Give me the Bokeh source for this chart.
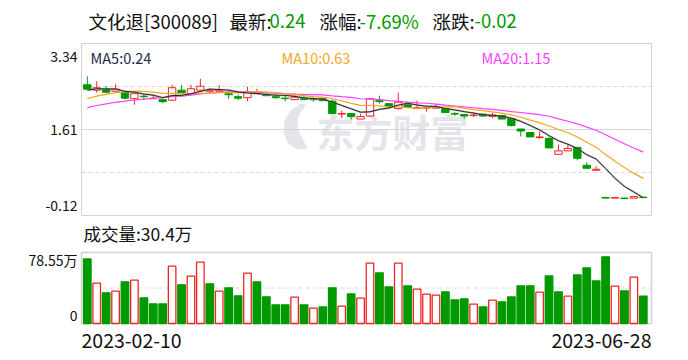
from bokeh.plotting import figure
from bokeh.models import Range1d, ColumnDataSource
from bokeh.core.properties import value
from bokeh.embed import file_html
from bokeh.resources import INLINE
import pandas as pd

# ---------------- data ----------------
stock_name = "文化退[300089]"
latest = "0.24"
pct_change = "-7.69%"
change = "-0.02"
start_date = "2023-02-10"
end_date = "2023-06-28"

opens = [2.51, 2.40, 2.42, 2.38, 2.36, 2.23, 2.28, 2.23, 2.21, 2.20,
         2.40, 2.33, 2.40, 2.38, 2.38, 2.33, 2.27, 2.25, 2.33, 2.31,
         2.27, 2.24, 2.21, 2.23, 2.22, 2.23, 2.18, 1.92, 1.93, 1.82,
         1.88, 2.19, 2.13, 2.03, 2.11, 2.03, 2.04, 2.04, 2.03, 1.93,
         1.91, 1.89, 1.92, 1.87, 1.89, 1.83, 1.62, 1.55, 1.45, 1.43,
         1.11, 1.18, 1.25, 0.89, 0.79, 0.24, 0.23, 0.23, 0.23, 0.25]
closes = [2.42, 2.45, 2.36, 2.42, 2.24, 2.33, 2.27, 2.24, 2.17, 2.45,
          2.35, 2.43, 2.48, 2.40, 2.40, 2.31, 2.24, 2.37, 2.35, 2.29,
          2.25, 2.23, 2.26, 2.21, 2.21, 2.19, 1.93, 1.93, 1.87, 1.87,
          2.23, 2.17, 2.07, 2.16, 2.06, 2.05, 2.05, 2.05, 1.95, 1.92,
          1.88, 1.90, 1.88, 1.90, 1.82, 1.69, 1.58, 1.46, 1.46, 1.24,
          1.18, 1.23, 1.03, 0.83, 0.81, 0.23, 0.24, 0.22, 0.26, 0.24]
highs = [2.68, 2.58, 2.48, 2.52, 2.37, 2.33, 2.33, 2.31, 2.21, 2.51,
         2.50, 2.51, 2.63, 2.43, 2.50, 2.38, 2.31, 2.47, 2.43, 2.37,
         2.33, 2.29, 2.33, 2.28, 2.25, 2.24, 2.21, 1.99, 1.93, 1.93,
         2.24, 2.29, 2.13, 2.35, 2.14, 2.19, 2.06, 2.13, 2.04, 1.96,
         1.91, 1.96, 1.92, 1.95, 1.91, 1.83, 1.62, 1.55, 1.57, 1.46,
         1.31, 1.30, 1.26, 0.95, 0.87, 0.26, 0.24, 0.24, 0.26, 0.25]
lows = [2.42, 2.35, 2.34, 2.36, 2.21, 2.11, 2.20, 2.23, 2.14, 2.18,
        2.35, 2.33, 2.36, 2.35, 2.37, 2.23, 2.20, 2.18, 2.33, 2.29,
        2.23, 2.18, 2.21, 2.21, 2.17, 2.19, 1.92, 1.84, 1.81, 1.82,
        1.87, 2.13, 2.03, 2.01, 2.05, 2.02, 1.97, 2.04, 1.95, 1.88,
        1.83, 1.86, 1.86, 1.84, 1.82, 1.67, 1.47, 1.46, 1.42, 1.24,
        1.11, 1.18, 0.99, 0.83, 0.79, 0.23, 0.23, 0.21, 0.23, 0.24]
# closes of the 19 sessions before the first shown candle (for the moving averages)
prev_closes = [1.62, 1.70, 1.78, 1.80, 1.85, 1.90, 1.92, 1.96, 2.00, 2.19,
               1.95, 2.00, 2.05, 2.10, 2.20, 2.30, 2.38, 2.42, 2.48]
# volume in 万 shares
volumes = [71.5, 44.6, 33.9, 35.8, 46.1, 47.9, 28.4, 21.8, 21.8, 63.4,
           42.8, 52.4, 67.9, 43.9, 35.8, 39.5, 30.6, 55.7, 46.1, 29.5,
           20.7, 20.7, 29.1, 20.7, 17.0, 18.4, 39.5, 19.2, 32.8, 28.0,
           66.7, 56.1, 40.6, 66.7, 41.7, 38.0, 32.5, 31.3, 35.0, 26.2,
           27.3, 21.4, 18.4, 25.8, 24.0, 29.5, 41.7, 41.7, 34.7, 52.7,
           35.0, 30.2, 53.8, 61.6, 47.2, 73.8, 41.3, 36.1, 51.3, 30.4]
# 1 = red (up) volume bar, 0 = green
vol_up = [0, 1, 0, 1, 0, 1, 0, 0, 0, 1, 0, 1, 1, 0, 1, 0, 0, 1, 0, 0,
          0, 0, 1, 0, 1, 0, 0, 1, 0, 1, 1, 0, 0, 1, 0, 1, 1, 1, 0, 0,
          0, 1, 0, 1, 0, 0, 0, 0, 1, 0, 0, 1, 0, 0, 0, 0, 1, 0, 1, 0]
price_ticks = [3.34, 1.61, -0.12]
price_tick_labels = ["3.34", "1.61", "-0.12"]
vol_ticks = [78.55, 0]
vol_tick_labels = ["78.55万", "0"]

# ---------------- styles ----------------
RED = "#f02424"
GREEN = "#009a00"
MA5_C = "#222222"
MA10_C = "#f5a623"
MA20_C = "#ff3cff"
BORDER = "#d2d2d2"
CJK = value("Noto Sans CJK SC")

n = len(closes)
idx = list(range(n))
allc = pd.Series(prev_closes + closes)
ma5 = allc.rolling(5).mean().iloc[len(prev_closes):].tolist()
ma10 = allc.rolling(10).mean().iloc[len(prev_closes):].tolist()
ma20 = allc.rolling(20).mean().iloc[len(prev_closes):].tolist()

up = [c >= o for o, c in zip(opens, closes)]
src = ColumnDataSource(dict(
    x=idx, o=opens, c=closes, h=highs, l=lows,
    top=[max(o, c) for o, c in zip(opens, closes)],
    bot=[min(o, c) for o, c in zip(opens, closes)],
    col=[RED if u else GREEN for u in up],
    fill=["white" if u else GREEN for u in up],
    vol=volumes,
    vcol=[RED if u else GREEN for u in vol_up],
    vfill=["white" if u else GREEN for u in vol_up],
    ma5=ma5, ma10=ma10, ma20=ma20,
))

W, H = 680, 360
p = figure(width=W, height=H, output_backend="svg", toolbar_location=None,
           x_range=Range1d(-9.21, 62.95), y_range=Range1d(-3.037, 4.205),
           x_axis_location=None, y_axis_location=None, min_border=0,
           outline_line_color=None)
p.grid.visible = False
# helper ranges in canvas pixels
p.extra_x_ranges = {"px": Range1d(0, W)}
p.extra_y_ranges = {"py": Range1d(H, 0), "vol": Range1d(-40.93, 357.35)}

L, R = 81, 651  # left / right of the panels (canvas px)

# watermark
p.text(x=[316], y=[130], text=["东方财富"], x_range_name="px", y_range_name="py",
       text_font=CJK, text_font_size="38px", text_font_style="bold",
       text_color="#e4e4ea", text_baseline="middle", text_align="left")
p.patch(x=[300, 290, 284, 283, 287, 296, 307, 303, 298, 297, 300, 306, 300],
        y=[103, 110, 120, 132, 142, 149, 148, 140, 130, 120, 112, 104, 103],
        x_range_name="px", y_range_name="py", color="#e4e4ea", line_color=None)

# price panel frame and grid
p.segment(x0=[L, L], x1=[R, R], y0=[2.475, 0.745], y1=[2.475, 0.745],
          x_range_name="px", line_color="#d8d8d8", line_dash="4 3", line_width=1)
p.segment(x0=[L], x1=[R], y0=[1.61], y1=[1.61], x_range_name="px",
          line_color="#d6d6d6", line_width=1)
p.quad(left=[L], right=[R], top=[3.34], bottom=[-0.12], x_range_name="px",
       fill_color=None, line_color=BORDER, line_width=1)

# volume panel frame and grid
p.segment(x0=[L], x1=[R], y0=[78.55 / 2], y1=[78.55 / 2], x_range_name="px",
          y_range_name="vol", line_color="#d8d8d8", line_dash="4 3", line_width=1)
p.quad(left=[L], right=[R], top=[78.55], bottom=[0], x_range_name="px",
       y_range_name="vol", fill_color=None, line_color=BORDER, line_width=1.5)

# candles
p.segment(x0="x", x1="x", y0="h", y1="l", source=src, line_color="col", line_width=1)
p.vbar(x="x", top="top", bottom="bot", width=0.78, source=src,
       fill_color="fill", line_color="col", line_width=1)

# moving averages
p.line(x="x", y="ma20", source=src, line_color=MA20_C, line_width=1.2)
p.line(x="x", y="ma10", source=src, line_color=MA10_C, line_width=1.2)
p.line(x="x", y="ma5", source=src, line_color="#999999", line_width=2.2, line_alpha=0.5)
p.line(x="x", y="ma5", source=src, line_color=MA5_C, line_width=1)

# volume bars
p.vbar(x="x", top="vol", bottom=0, width=0.8, source=src, y_range_name="vol",
       fill_color="vfill", line_color="vcol", line_width=1.3)

# header
hx = [88, 229, 269, 319, 359, 432, 474]
htxt = [stock_name, "最新:", latest, "涨幅:", pct_change, "涨跌:", change]
hcol = ["#111111", "#111111", GREEN, "#111111", GREEN, "#111111", GREEN]
p.text(x=hx, y=[20] * 7, text=htxt, text_color=hcol, x_range_name="px",
       y_range_name="py", text_font=CJK, text_font_size="18.5px",
       text_baseline="middle", text_align="left")

# MA legends
p.text(x=[90, 281, 481], y=[57] * 3,
       text=["MA5:%.2f" % ma5[-1], "MA10:%.2f" % ma10[-1], "MA20:%.2f" % ma20[-1]],
       text_color=["#1c2a44", MA10_C, MA20_C], x_range_name="px", y_range_name="py",
       text_font=CJK, text_font_size="14.5px", text_baseline="middle", text_align="left")

# price tick labels
p.text(x=[77] * 3, y=price_ticks, text=price_tick_labels, x_range_name="px",
       y_offset=[13, 0, -10], text_font=CJK, text_font_size="14px",
       text_color="#111111", text_baseline="middle", text_align="right")

# volume title and labels
p.text(x=[83], y=[233], text=["成交量:%.1f万" % volumes[-1]], x_range_name="px",
       y_range_name="py", text_font=CJK, text_font_size="17.5px", text_color="#111111",
       text_baseline="middle", text_align="left")
p.text(x=[77] * 2, y=vol_ticks, text=vol_tick_labels, x_range_name="px",
       y_range_name="vol", y_offset=[7, -8], text_font=CJK, text_font_size="14px",
       text_color="#111111", text_baseline="middle", text_align="right")

# date labels
p.text(x=[L, R], y=[340, 340], text=[start_date, end_date], x_range_name="px",
       y_range_name="py", text_font=CJK, text_font_size="19.5px", text_color="#111111",
       text_baseline="middle", text_align=["left", "right"])

open("out.html", "w").write(file_html(p, INLINE))
